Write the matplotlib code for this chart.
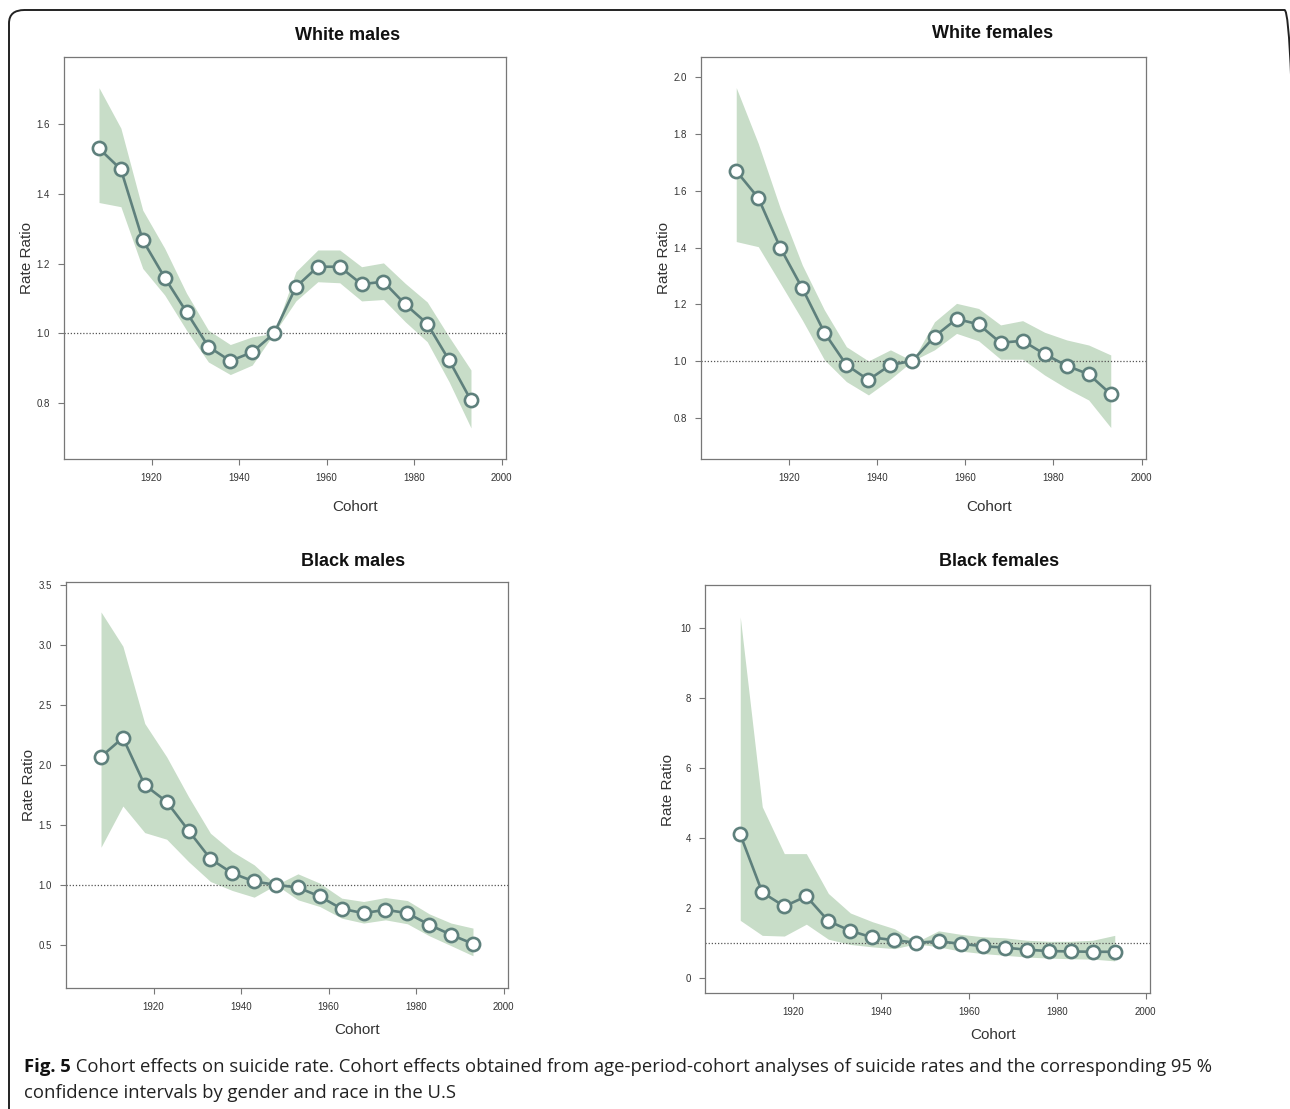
import numpy as np
import matplotlib.pyplot as plt
from matplotlib.patches import FancyBboxPatch

plt.rcParams['font.family'] = ['Liberation Sans', 'DejaVu Sans']

cohort = [1908, 1913, 1918, 1923, 1928, 1933, 1938, 1943, 1948,
          1953, 1958, 1963, 1968, 1973, 1978, 1983, 1988, 1993]

# White males
wm_rr = [1.530, 1.470, 1.267, 1.160, 1.061, 0.962, 0.921, 0.946, 1.000,
         1.133, 1.191, 1.191, 1.141, 1.148, 1.083, 1.028, 0.923, 0.808]
wm_hi = [1.704, 1.588, 1.353, 1.244, 1.115, 1.009, 0.968, 0.990, 1.000,
         1.177, 1.239, 1.239, 1.191, 1.202, 1.143, 1.090, 0.990, 0.895]
wm_lo = [1.375, 1.363, 1.186, 1.110, 1.009, 0.918, 0.882, 0.909, 1.000,
         1.093, 1.148, 1.145, 1.093, 1.097, 1.033, 0.976, 0.861, 0.729]

# White females
wf_rr = [1.670, 1.575, 1.399, 1.256, 1.100, 0.986, 0.933, 0.986, 1.000,
         1.086, 1.148, 1.129, 1.064, 1.071, 1.024, 0.983, 0.953, 0.883]
wf_hi = [1.964, 1.767, 1.538, 1.338, 1.180, 1.050, 1.000, 1.039, 1.000,
         1.138, 1.203, 1.185, 1.127, 1.142, 1.101, 1.074, 1.056, 1.021]
wf_lo = [1.421, 1.403, 1.274, 1.144, 1.004, 0.927, 0.880, 0.936, 1.000,
         1.039, 1.097, 1.071, 1.006, 1.006, 0.950, 0.903, 0.862, 0.765]

# Black males
bm_rr = [2.069, 2.228, 1.833, 1.694, 1.453, 1.217, 1.097, 1.028, 1.000,
         0.978, 0.903, 0.800, 0.764, 0.792, 0.764, 0.667, 0.583, 0.508]
bm_hi = [3.278, 2.992, 2.347, 2.069, 1.736, 1.431, 1.278, 1.167, 1.000,
         1.092, 1.014, 0.889, 0.861, 0.894, 0.869, 0.758, 0.681, 0.639]
bm_lo = [1.314, 1.658, 1.436, 1.381, 1.194, 1.028, 0.953, 0.897, 1.000,
         0.875, 0.819, 0.722, 0.681, 0.708, 0.675, 0.575, 0.492, 0.408]

# Black females
bf_rr = [4.10, 2.44, 2.04, 2.33, 1.62, 1.34, 1.15, 1.07, 1.00,
         1.04, 0.97, 0.90, 0.86, 0.80, 0.76, 0.75, 0.74, 0.74]
bf_hi = [10.33, 4.89, 3.55, 3.55, 2.41, 1.85, 1.60, 1.40, 1.02,
         1.34, 1.24, 1.17, 1.14, 1.07, 1.04, 1.04, 1.07, 1.21]
bf_lo = [1.64, 1.21, 1.19, 1.53, 1.10, 0.95, 0.88, 0.83, 0.97,
         0.88, 0.76, 0.69, 0.64, 0.59, 0.56, 0.54, 0.53, 0.48]

panels = [
    ("White males", wm_rr, wm_lo, wm_hi, [0.8, 1.0, 1.2, 1.4, 1.6], (0.64, 1.792),
     [64, 57, 506, 459], (348, 36), (355, 507), (27, 258)),
    ("White females", wf_rr, wf_lo, wf_hi, [0.8, 1.0, 1.2, 1.4, 1.6, 1.8, 2.0], (0.654, 2.072),
     [701, 57, 1146, 459], (993, 34), (989, 507), (664, 258)),
    ("Black males", bm_rr, bm_lo, bm_hi, [0.5, 1.0, 1.5, 2.0, 2.5, 3.0, 3.5], (0.139, 3.528),
     [66, 582, 508, 988], (353, 561), (357, 1030), (29, 785)),
    ("Black females", bf_rr, bf_lo, bf_hi, [0, 2, 4, 6, 8, 10], (-0.44, 11.24),
     [705, 585, 1150, 993], (999, 561), (993, 1035), (668, 790)),
]

W, H = 1290, 1109
fig = plt.figure(figsize=(W / 100, H / 100), dpi=100)

line_col = '#5e807c'
fill_col = '#c8ddc8'

for title, rr, lo, hi, yt, ylim, box, tpos, xlpos, ylpos in panels:
    x0, y0, x1, y1 = box
    ax = fig.add_axes([x0 / W, 1 - y1 / H, (x1 - x0) / W, (y1 - y0) / H])
    ax.fill_between(cohort, lo, hi, color=fill_col, lw=0)
    ax.axhline(1.0, color='#555555', lw=0.9, ls=(0, (1, 1.5)))
    ax.plot(cohort, rr, color=line_col, lw=1.9, marker='o', ms=9.5,
            mfc='white', mec=line_col, mew=1.9)
    ax.set_xlim(1900, 2001)
    ax.set_ylim(*ylim)
    ax.set_xticks([1920, 1940, 1960, 1980, 2000])
    ax.set_yticks(yt)
    if title == "Black females":
        ax.set_yticklabels([str(v) for v in yt])
    else:
        ax.set_yticklabels(['%.1f' % v for v in yt])
    ax.tick_params(direction='out', length=4, width=0.8, colors='#777777',
                   labelcolor='#333333', labelsize=7, pad=6)
    for s in ax.spines.values():
        s.set_color('#777777')
        s.set_linewidth(0.9)
    fig.text(tpos[0] / W, 1 - tpos[1] / H, title, ha='center', va='center',
             fontsize=13, fontweight='bold', color='#111111')
    fig.text(xlpos[0] / W, 1 - xlpos[1] / H, 'Cohort', ha='center', va='center',
             fontsize=11, color='#333333')
    fig.text(ylpos[0] / W, 1 - ylpos[1] / H, 'Rate Ratio', ha='center', va='center',
             fontsize=11, color='#333333', rotation=90)

# outer rounded frame (runs off the right and bottom edges)
frame = FancyBboxPatch((9 / W, -0.03), (1300 - 9) / W, 1 - 10 / H + 0.03,
                       boxstyle='round,pad=0,rounding_size=0.012',
                       transform=fig.transFigure, fill=False,
                       ec='#222222', lw=1.4, clip_on=False)
fig.patches.append(frame)

cap_font = ['Open Sans', 'DejaVu Sans']
t1 = fig.text(24 / W, 1 - 1067 / H, 'Fig. 5', ha='left', va='center',
              fontsize=13.3, fontweight='bold', family=cap_font, color='#111111')
fig.add_artist(plt.Annotation(
    ' Cohort effects on suicide rate. Cohort effects obtained from age-period-cohort '
    'analyses of suicide rates and the corresponding 95 %',
    xy=(1, 0.5), xycoords=t1, va='center', ha='left',
    fontsize=13.3, family=cap_font, color='#222222'))
fig.text(24 / W, 1 - 1093 / H, 'confidence intervals by gender and race in the U.S',
         ha='left', va='center', fontsize=13.3, family=cap_font, color='#222222')

fig.savefig('out.png', dpi=100)
